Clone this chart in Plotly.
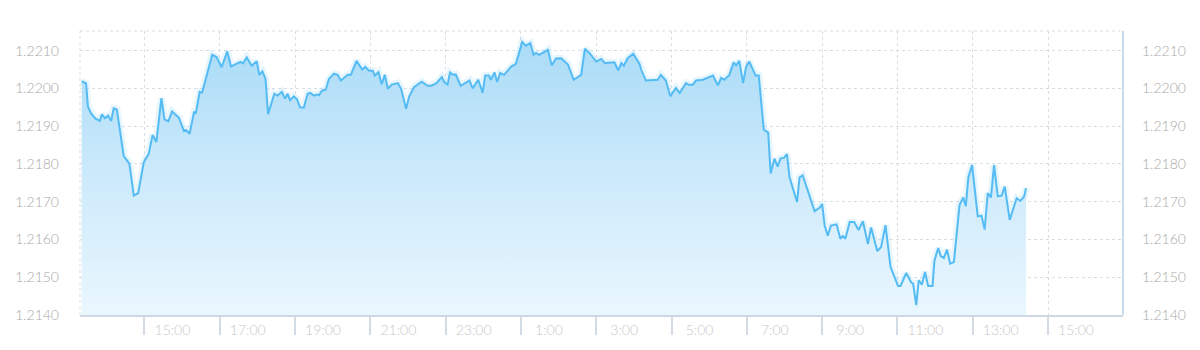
import pandas as pd
import plotly.graph_objects as go

start_date = "2021-01-07"

times = [
    "13:20","13:27","13:30","13:35","13:42","13:49","13:52","13:57","14:02","14:07",
    "14:11","14:16","14:27","14:36","14:43","14:50","14:59","15:07","15:13","15:19",
    "15:27","15:32","15:38","15:44","15:55","16:03","16:06","16:12","16:19","16:22",
    "16:28","16:32","16:48","16:55","17:03","17:12","17:18","17:33","17:37","17:43",
    "17:51","17:59","18:03","18:08","18:13","18:17","18:27","18:32","18:39","18:44",
    "18:48","18:52","18:58","19:03","19:08","19:14","19:20","19:24","19:30","19:35",
    "19:38","19:43","19:49","19:54","20:02","20:08","20:13","20:24","20:29","20:38",
    "20:47","20:52","20:58","21:04","21:07","21:13","21:18","21:23","21:28","21:34",
    "21:44","21:49","21:57","22:02","22:10","22:22","22:31","22:37","22:45","22:54",
    "22:58","23:03","23:07","23:12","23:16","23:24","23:38","23:43","23:52","23:59",
    "00:03","00:09","00:12","00:18","00:22","00:27","00:33","00:44","00:52","01:02",
    "01:08","01:15","01:20","01:24","01:29","01:43","01:49","01:56","02:04","02:15",
    "02:24","02:36","02:42","02:49","03:00","03:08","03:14","03:29","03:35","03:40",
    "03:44","03:50","03:59","04:09","04:12","04:19","04:38","04:43","04:51","04:58",
    "05:07","05:13","05:23","05:27","05:34","05:39","05:50","06:06","06:14","06:19",
    "06:24","06:32","06:39","06:43","06:48","06:54","06:59","07:04","07:14","07:19",
    "07:27","07:34","07:38","07:44","07:49","07:54","07:59","08:04","08:08","08:20",
    "08:24","08:29","08:48","08:56","09:00","09:04","09:09","09:14","09:23","09:29",
    "09:33","09:37","09:44","09:51","09:58","10:05","10:13","10:18","10:28","10:34",
    "10:41","10:49","11:01","11:05","11:14","11:22","11:25","11:30","11:34","11:39",
    "11:44","11:49","11:56","11:59","12:05","12:09","12:14","12:19","12:24","12:30",
    "12:39","12:45","12:49","12:53","12:59","13:08","13:14","13:19","13:24","13:29",
    "13:34","13:40","13:46","13:51","13:59","14:10","14:16","14:22","14:25",
]

prices = [
    1.22019,1.22013,1.21951,1.21934,1.21920,1.21914,1.21931,1.21921,1.21928,1.21914,
    1.21947,1.21944,1.21821,1.21801,1.21716,1.21723,1.21804,1.21828,1.21877,1.21858,
    1.21974,1.21918,1.21913,1.21939,1.21922,1.21887,1.21890,1.21880,1.21937,1.21935,
    1.21991,1.21989,1.22089,1.22083,1.22056,1.22098,1.22058,1.22070,1.22066,1.22082,
    1.22060,1.22072,1.22036,1.22045,1.22025,1.21932,1.21986,1.21981,1.21991,1.21973,
    1.21986,1.21969,1.21979,1.21972,1.21950,1.21949,1.21986,1.21988,1.21981,1.21984,
    1.21982,1.21994,1.21997,1.22025,1.22039,1.22036,1.22021,1.22036,1.22036,1.22073,
    1.22050,1.22057,1.22047,1.22047,1.22034,1.22043,1.22011,1.22036,1.21999,1.22010,
    1.22014,1.21999,1.21946,1.21979,1.22004,1.22018,1.22007,1.22007,1.22013,1.22030,
    1.22016,1.22010,1.22042,1.22036,1.22037,1.22007,1.22021,1.22000,1.22023,1.21988,
    1.22034,1.22034,1.22023,1.22042,1.22017,1.22041,1.22036,1.22057,1.22065,1.22123,
    1.22113,1.22120,1.22089,1.22094,1.22089,1.22102,1.22061,1.22079,1.22080,1.22063,
    1.22023,1.22036,1.22105,1.22094,1.22071,1.22078,1.22067,1.22069,1.22048,1.22067,
    1.22060,1.22080,1.22092,1.22065,1.22048,1.22021,1.22023,1.22036,1.22021,1.21979,
    1.22001,1.21988,1.22014,1.22010,1.22010,1.22021,1.22023,1.22034,1.22008,1.22028,
    1.22023,1.22035,1.22069,1.22061,1.22073,1.22014,1.22058,1.22071,1.22034,1.22034,
    1.21891,1.21883,1.21775,1.21814,1.21793,1.21815,1.21816,1.21826,1.21765,1.21699,
    1.21764,1.21770,1.21675,1.21684,1.21694,1.21637,1.21610,1.21637,1.21640,1.21602,
    1.21609,1.21602,1.21646,1.21646,1.21625,1.21648,1.21588,1.21632,1.21569,1.21580,
    1.21638,1.21527,1.21477,1.21477,1.21511,1.21486,1.21483,1.21426,1.21492,1.21480,
    1.21514,1.21477,1.21477,1.21544,1.21577,1.21556,1.21551,1.21573,1.21536,1.21540,
    1.21691,1.21711,1.21688,1.21764,1.21797,1.21661,1.21663,1.21626,1.21723,1.21711,
    1.21797,1.21714,1.21716,1.21740,1.21652,1.21709,1.21702,1.21714,1.21736,
]

y_range = [1.2140, 1.22152]
x_range = ["2021-01-07 13:17:18", "2021-01-08 16:59:30"]
tick_start = "2021-01-07 15:00"

# build timestamps, rolling over to the next day when the clock wraps
stamps = []
day = pd.Timestamp(start_date)
prev = None
for t in times:
    hh, mm = map(int, t.split(":"))
    cur = hh * 60 + mm
    if prev is not None and cur < prev:
        day = day + pd.Timedelta(days=1)
    prev = cur
    stamps.append(day + pd.Timedelta(minutes=cur))

LINE = "#55bcf3"
GRID = "#d9dee5"
FONT = "Lato"

fig = go.Figure()

# soft glow under the line
fig.add_trace(go.Scatter(
    x=stamps, y=prices, mode="lines",
    line=dict(color="rgba(120,200,245,0.18)", width=7),
    hoverinfo="skip", showlegend=False,
))

fig.add_trace(go.Scatter(
    x=stamps, y=prices, mode="lines",
    line=dict(color=LINE, width=2),
    fill="tozeroy",
    fillgradient=dict(
        type="vertical",
        colorscale=[[0, "#eaf7fe"], [0.5, "#cdeafb"], [1, "#a9dbf7"]],
        start=1.2140, stop=1.2213,
    ),
    showlegend=False,
))

# invisible trace for the right-hand axis
fig.add_trace(go.Scatter(
    x=stamps, y=prices, mode="lines", yaxis="y2",
    line=dict(color="rgba(0,0,0,0)", width=0),
    hoverinfo="skip", showlegend=False,
))

fig.update_layout(
    width=1200, height=350,
    margin=dict(l=80, r=77, t=31, b=33),
    paper_bgcolor="white", plot_bgcolor="white",
    font=dict(family=FONT, size=14, color="#a8a8a8"),
    xaxis=dict(
        type="date", range=x_range,
        tick0=tick_start, dtick=2 * 3600 * 1000,
        tickformat="%-H:%M",
        showgrid=True, gridcolor=GRID, griddash="dot", gridwidth=1,
        showline=True, linecolor="#cfd8e2", linewidth=2,
        ticks="outside", ticklen=18, tickwidth=2, tickcolor="#d3dbe4",
        tickfont=dict(family=FONT, size=14, color="#c9c9c9", weight=300),
        ticklabelshift=28, ticklabelstandoff=-17,
        zeroline=False,
    ),
    yaxis=dict(
        range=y_range, dtick=0.001, tick0=1.2140, tickformat=".4f",
        showgrid=True, gridcolor=GRID, griddash="dot", gridwidth=1,
        showline=False, zeroline=False, ticks="",
        tickfont=dict(family=FONT, size=14, color="#a8a8a8", weight=300),
        ticklabelstandoff=20,
    ),
    yaxis2=dict(
        range=y_range, dtick=0.001, tick0=1.2140, tickformat=".4f",
        overlaying="y", side="right", showgrid=False, zeroline=False,
        showline=False, ticks="",
        tickfont=dict(family=FONT, size=14, color="#a8a8a8", weight=300),
        ticklabelstandoff=18,
    ),
    shapes=[
        dict(type="line", xref="paper", yref="paper", x0=0, x1=1, y0=1, y1=1,
             line=dict(color=GRID, width=1, dash="dot")),
        dict(type="line", xref="paper", yref="paper", x0=0, x1=0, y0=0, y1=1,
             line=dict(color=GRID, width=1, dash="dot")),
        dict(type="line", xref="paper", yref="paper", x0=1, x1=1, y0=0, y1=1,
             line=dict(color="#c6daf0", width=2)),
    ],
)

fig.write_html("out.html")
